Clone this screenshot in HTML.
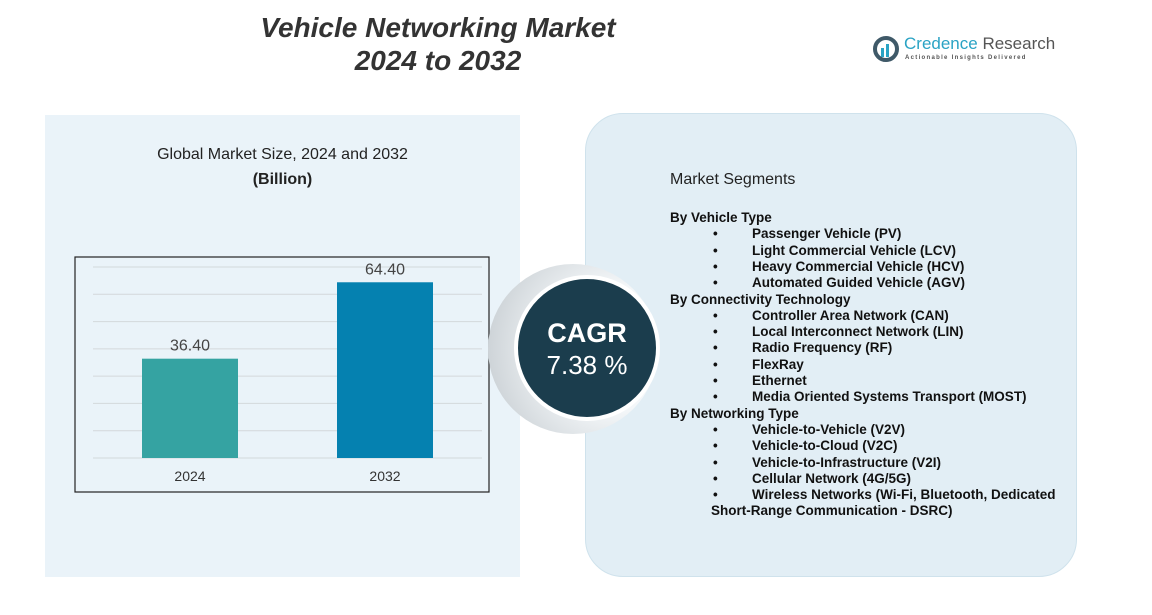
<!DOCTYPE html>
<html><head><meta charset="utf-8">
<style>
body{margin:0;width:1152px;height:615px;background:#fff;position:relative;overflow:hidden;font-family:"Liberation Sans",sans-serif;}
.abs{position:absolute;}
.seg{position:absolute;font-size:13.5px;font-weight:bold;color:#111;white-space:nowrap;line-height:16px;}
</style></head><body>
<div class="abs" style="left:198px;top:11px;width:480px;text-align:center;font-size:28px;font-weight:bold;font-style:italic;color:#333;line-height:33px;">Vehicle Networking Market<br>2024 to 2032</div>
<div class="abs" style="left:872px;top:34px;">
<svg width="30" height="30"><circle cx="14" cy="15" r="11" fill="none" stroke="#3f5968" stroke-width="4"/><rect x="9" y="14" width="3" height="9" fill="#2aa3c4"/><rect x="14" y="10" width="3" height="13" fill="#2aa3c4"/></svg>
<span class="abs" style="left:32px;top:0px;font-size:17px;color:#2aa3c4;white-space:nowrap;">Credence <span style="color:#555">Research</span></span>
<span class="abs" style="left:33px;top:21px;font-size:6px;letter-spacing:1.3px;color:#555;white-space:nowrap;font-weight:bold;">Actionable Insights Delivered</span>
</div>
<div class="abs" style="left:45px;top:115px;width:475px;height:462px;background:#eaf3f9;"></div>
<div class="abs" style="left:585px;top:113px;width:490px;height:462px;background:#e2eef5;border:1px solid #cfe2ec;border-radius:38px;"></div>
<div class="abs" style="left:130px;top:142px;width:305px;text-align:center;font-size:16px;color:#222;line-height:25px;">Global Market Size, 2024 and 2032<br><b>(Billion)</b></div>
<svg class="abs" id="chart" style="left:0;top:0" width="1152" height="615"></svg>
<div class="abs" style="left:488px;top:264px;width:170px;height:170px;border-radius:50%;background:radial-gradient(circle at 75% 50%,#f4f7f9 40%,#bfc6cb 100%);"></div>
<div class="abs" style="left:514px;top:275px;width:138px;height:138px;border-radius:50%;background:#1b3d4d;border:4px solid #fff;color:#fff;text-align:center;">
<div style="margin-top:38px;font-size:27px;font-weight:bold;line-height:32px;">CAGR</div>
<div style="font-size:26px;line-height:32px;">7.38 %</div></div>
<div class="abs" style="left:670px;top:171px;font-size:16px;color:#222;">Market Segments</div>
<div id="segs"></div>
<script>
const categories=["2024","2032"];
const values=[36.40,64.40];
const yTicks=[0,10,20,30,40,50,60,70];
const colors=["#35a3a2","#0581b0"];
const svg=document.getElementById('chart');const NS="http://www.w3.org/2000/svg";
const y0=458,y1=267,vmax=70;
const y=v=>y0-(v/vmax)*(y0-y1);
const xc=i=>190+i*195;
function mk(t,a){const e=document.createElementNS(NS,t);for(const k in a)e.setAttribute(k,a[k]);svg.appendChild(e);return e;}
yTicks.forEach(t=>{const g=mk('line',{x1:93,x2:482,y1:y(t),y2:y(t),stroke:'#d3d8db','stroke-width':1});

});
values.forEach((v,i)=>{const r=mk('rect',{x:xc(i)-48,y:y(v),width:96,height:y0-y(v),fill:colors[i]});


const l=mk('text',{x:xc(i),y:y(v)-8,'text-anchor':'middle','font-size':16,fill:'#444','font-family':'Liberation Sans'});l.textContent=v.toFixed(2);


const c=mk('text',{x:xc(i),y:481,'text-anchor':'middle','font-size':14,fill:'#333','font-family':'Liberation Sans'});c.textContent=categories[i];

});
const b=mk('rect',{x:75,y:257,width:414,height:235,fill:'none',stroke:'#222','stroke-width':1.2});


const lines=[["h","By Vehicle Type"],["b","Passenger Vehicle (PV)"],["b","Light Commercial Vehicle (LCV)"],["b","Heavy Commercial Vehicle (HCV)"],["b","Automated Guided Vehicle (AGV)"],["h","By Connectivity Technology"],["b","Controller Area Network (CAN)"],["b","Local Interconnect Network (LIN)"],["b","Radio Frequency (RF)"],["b","FlexRay"],["b","Ethernet"],["b","Media Oriented Systems Transport (MOST)"],["h","By Networking Type"],["b","Vehicle-to-Vehicle (V2V)"],["b","Vehicle-to-Cloud (V2C)"],["b","Vehicle-to-Infrastructure (V2I)"],["b","Cellular Network (4G/5G)"],["b","Wireless Networks (Wi-Fi, Bluetooth, Dedicated"],["c","Short-Range Communication - DSRC)"]];
const segs=document.getElementById('segs');
lines.forEach((l,i)=>{const top=210+i*16.3;
if(l[0]=="b"){const d=document.createElement('div');d.className='seg';d.style.left='713px';d.style.top=top+'px';d.textContent='•';

segs.appendChild(d);}
const e=document.createElement('div');e.className='seg';e.style.left=(l[0]=="h"?670:l[0]=="b"?752:711)+'px';e.style.top=top+'px';e.textContent=l[1];

segs.appendChild(e);});
</script>
</body></html>
